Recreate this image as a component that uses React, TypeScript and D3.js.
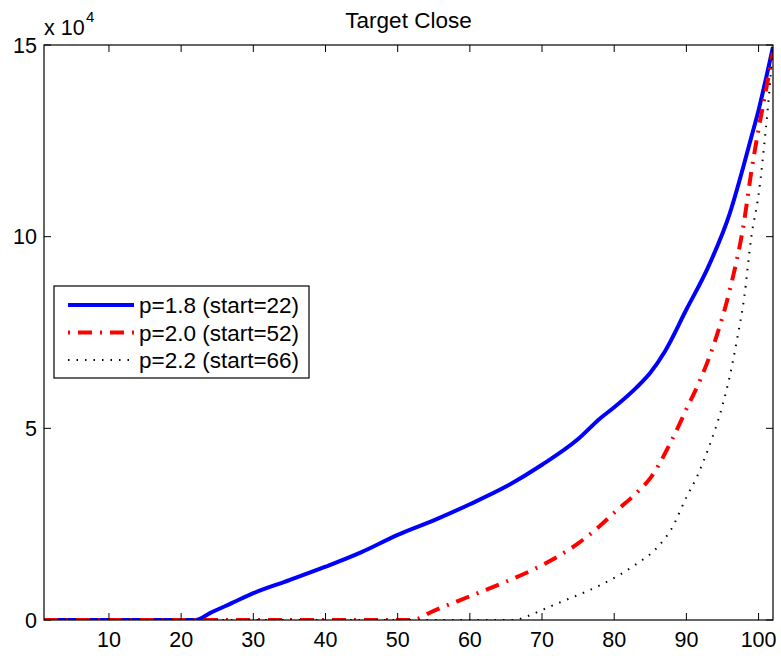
import * as d3 from 'd3';

// values in units of 10^4
const blueX = [1, 22, 24, 27, 30, 35, 40, 45, 50, 55, 60, 65, 70, 75, 78, 80, 83, 85, 87, 90, 93, 96, 98, 99, 100, 101, 102];
const blueY = [0, 0, 0.18, 0.44, 0.7, 1.04, 1.39, 1.77, 2.22, 2.6, 3.02, 3.48, 4.05, 4.72, 5.25, 5.55, 6.05, 6.45, 7.0, 8.1, 9.2, 10.6, 11.9, 12.6, 13.3, 14.1, 14.95];

const redX = [1, 52, 55, 60, 65, 70, 75, 78, 80, 83, 85, 88, 90, 92, 94, 96, 98, 99, 100, 101, 102];
const redY = [0, 0, 0.24, 0.62, 1.0, 1.43, 2.0, 2.45, 2.8, 3.3, 3.7, 4.7, 5.5, 6.3, 7.3, 8.6, 10.4, 11.7, 12.8, 13.8, 14.8];

const blackX = [1, 66, 68, 70, 73, 76, 80, 83, 86, 88, 90, 91.5, 93, 95, 96, 97, 98, 99, 100, 101, 102];
const blackY = [0, 0, 0.1, 0.26, 0.5, 0.73, 1.1, 1.45, 1.9, 2.4, 3.2, 3.75, 4.45, 5.6, 6.35, 7.3, 8.4, 10.0, 11.1, 12.8, 14.9];

const xTicks = [10, 20, 30, 40, 50, 60, 70, 80, 90, 100];
const yTicks = [0, 5, 10, 15];

const series = [
  { label: 'p=1.8 (start=22)', xs: blueX, ys: blueY, color: '#0000ff', width: 4, dash: null as string | null, legendOffset: 0 },
  { label: 'p=2.0 (start=52)', xs: redX, ys: redY, color: '#ff0000', width: 4, dash: '14,8,2,8', legendOffset: 22 },
  { label: 'p=2.2 (start=66)', xs: blackX, ys: blackY, color: '#000000', width: 2, dash: '1.5,7', legendOffset: 0 },
];

const W = 781;
const H = 656;
const margin = { left: 44, right: 8, top: 45, bottom: 36 };
const font = 'Liberation Sans, Arial, Helvetica, sans-serif';

export default function App() {
  const x = d3.scaleLinear().domain([1, 102]).range([margin.left, W - margin.right]);
  const y = d3.scaleLinear().domain([0, 15]).range([H - margin.bottom, margin.top]);
  const line = d3.line<[number, number]>()
    .x(d => x(d[0]))
    .y(d => y(d[1]))
    .curve(d3.curveMonotoneX);

  const [x0, x1] = x.range();
  const [y0, y1] = y.range();
  const tick = 7;

  return (
    <svg width={W} height={H} style={{ position: 'absolute', left: 0, top: 0, background: '#fff' }} fontFamily={font}>
      <rect width={W} height={H} fill="#fff" />
      <defs>
        <clipPath id="clip">
          <rect x={x0} y={y1 - 3} width={x1 - x0} height={y0 - y1 + 3} />
        </clipPath>
      </defs>
      {/* data lines */}
      <g clipPath="url(#clip)">
        {series.map(s => (
          <path
            key={s.label}
            d={line(s.xs.map((v, i) => [v, s.ys[i]] as [number, number])) || ''}
            fill="none"
            stroke={s.color}
            strokeWidth={s.width}
            strokeDasharray={s.dash || undefined}
            strokeLinejoin="round"
          />
        ))}
      </g>

      {/* box */}
      <rect x={x0} y={y1} width={x1 - x0} height={y0 - y1} fill="none" stroke="#000" strokeWidth={1.2} />

      {/* x ticks */}
      {xTicks.map(t => (
        <g key={'x' + t}>
          <line x1={x(t)} x2={x(t)} y1={y0} y2={y0 - tick} stroke="#000" strokeWidth={1} />
          <line x1={x(t)} x2={x(t)} y1={y1} y2={y1 + tick} stroke="#000" strokeWidth={1} />
          <text x={x(t)} y={y0 + 27} textAnchor="middle" fontSize={21.5}>{t}</text>
        </g>
      ))}

      {/* y ticks */}
      {yTicks.map(t => (
        <g key={'y' + t}>
          <line x1={x0} x2={x0 + tick} y1={y(t)} y2={y(t)} stroke="#000" strokeWidth={1} />
          <line x1={x1} x2={x1 - tick} y1={y(t)} y2={y(t)} stroke="#000" strokeWidth={1} />
          <text x={x0 - 7} y={y(t) + 7.5} textAnchor="end" fontSize={21.5}>{t}</text>
        </g>
      ))}

      {/* exponent */}
      <text x={x0} y={35} fontSize={21.5}>x 10</text>
      <text x={86} y={22} fontSize={15}>4</text>

      {/* title */}
      <text x={(x0 + x1) / 2} y={28} textAnchor="middle" fontSize={22.5}>Target Close</text>

      {/* legend */}
      <g>
        <rect x={54} y={286} width={255} height={92} fill="#fff" stroke="#000" strokeWidth={1.2} />
        {series.map((s, i) => {
          const ly = 305 + i * 27.5;
          return (
            <g key={'l' + s.label}>
              <line x1={68} x2={134} y1={ly} y2={ly} stroke={s.color} strokeWidth={s.width}
                strokeDasharray={s.dash || undefined} strokeDashoffset={s.legendOffset} />
              <text x={139} y={ly + 8} fontSize={22.5}>{s.label}</text>
            </g>
          );
        })}
      </g>
    </svg>
  );
}
